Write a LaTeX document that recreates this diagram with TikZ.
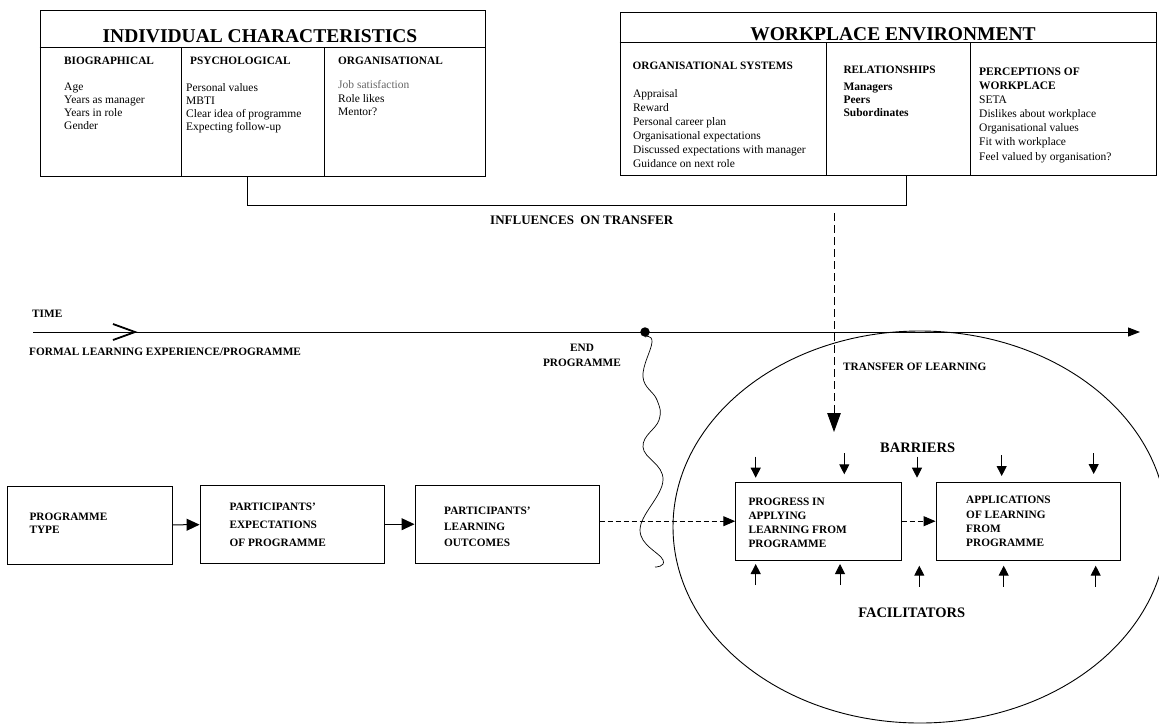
\documentclass[tikz,border=0pt]{standalone}
\usepackage{fontspec}
\setmainfont{Liberation Serif}
\usetikzlibrary{arrows.meta}

\begin{document}
\begin{tikzpicture}[x=1pt,y=-1pt,
    box/.style={draw=black,line width=1pt,inner sep=0pt},
    stagebox/.style={box,minimum height=78pt},
    txt/.style={inner sep=0pt,anchor=north west,align=left,font=\fontsize{11.5}{13}\selectfont},
    head/.style={inner sep=0pt,anchor=north west,align=left,font=\fontsize{11.3}{14}\selectfont\bfseries},
    stagetext/.style={head,font=\fontsize{11.3}{#1}\selectfont\bfseries},
    title/.style={inner sep=0pt,font=\fontsize{19.5}{22}\selectfont\bfseries},
    bigtext/.style={inner sep=0pt,font=\fontsize{14.5}{16}\selectfont\bfseries},
    solidarr/.style={line width=1pt,-{Triangle[length=13pt,width=12pt]}},
    dasharr/.style={line width=1pt,dash pattern=on 5pt off 3pt,-{Triangle[length=12pt,width=10pt]}},
    smallarr/.style={line width=1pt,-{Triangle[length=10pt,width=10pt]}}]
    \useasboundingbox (0,0) rectangle (1159,724);
    \clip (0,0) rectangle (1159,724);

    \node[box,minimum width=445pt,minimum height=166pt] (indiv) at (262.5,93) {};
    \draw[line width=1pt] (indiv.north west) ++(0,38) -- ++(445,0);
    \draw[line width=1pt] (indiv.north west) ++(142,38) -- ++(0,128);
    \draw[line width=1pt] (indiv.north west) ++(285,38) -- ++(0,128);
    \node[title] (indivtitle) at (260,35.7) {INDIVIDUAL CHARACTERISTICS};
    \node[head] (biohead) at (64,57.2) {BIOGRAPHICAL};
    \node[txt] (bioitems) at (64,83) {Age\\Years as manager\\Years in role\\Gender};
    \node[head] (psyhead) at (190,57.2) {PSYCHOLOGICAL};
    \node[txt] (psyitems) at (186,83) {Personal values\\MBTI\\Clear idea of programme\\Expecting follow-up};
    \node[head] (orghead) at (338,57.2) {ORGANISATIONAL};
    \node[txt,font=\fontsize{11.5}{13.2}\selectfont] (orgitems) at (338,80.5) {\textcolor{black!60}{Job satisfaction}\\Role likes\\Mentor?};

    \node[box,minimum width=536pt,minimum height=163pt] (work) at (888,94.2) {};
    \draw[line width=1pt] (work.north west) ++(0,30.6) -- ++(536,0);
    \draw[line width=1pt] (work.north west) ++(206.6,30.6) -- ++(0,132.4);
    \draw[line width=1pt] (work.north west) ++(351,30.6) -- ++(0,132.4);
    \node[title] (worktitle) at (893,34.5) {WORKPLACE ENVIRONMENT};
    \node[head] (syshead) at (632.5,62.2) {ORGANISATIONAL SYSTEMS};
    \node[txt,font=\fontsize{11.5}{14}\selectfont] (sysitems) at (632.8,89.8) {Appraisal\\Reward\\Personal career plan\\Organisational expectations\\Discussed expectations with manager\\Guidance on next role};
    \node[head] (relhead) at (843.3,66.2) {RELATIONSHIPS};
    \node[txt,font=\fontsize{11.5}{13.3}\selectfont\bfseries] (relitems) at (843.3,82.5) {Managers\\Peers\\Subordinates};
    \node[txt,font=\fontsize{11.5}{14.05}\selectfont] (percitems) at (979,67.9) {\textbf{PERCEPTIONS OF}\\\textbf{WORKPLACE}\\SETA\\Dislikes about workplace\\Organisational values\\Fit with workplace\\Feel valued by organisation?};

    \coordinate (infl) at (247,205);
    \coordinate (infr) at (906,205);
    \draw[line width=1pt] (indiv.south -| infl) -- (infl) -- (infr) -- (work.south -| infr);
    \node[inner sep=0pt,anchor=west,font=\fontsize{13}{15}\selectfont\bfseries] (influences) at (490,220) {INFLUENCES\ \ ON TRANSFER};

    \coordinate (tstart) at (33,332);
    \coordinate (tend) at (1140,332);
    \draw[line width=1pt,-{Triangle[length=12pt,width=9pt]}] (tstart) -- (tend);
    \draw[line width=1.8pt] (113,324) -- (135,332) -- (113,340);
    \node[head,anchor=west] (timetext) at (32,314) {TIME};
    \node[head,anchor=west] (formaltext) at (29,352) {FORMAL LEARNING EXPERIENCE/PROGRAMME};
    \node[circle,fill=black,inner sep=0pt,minimum size=9.5pt] (endprog) at (645,332) {};
    \node[inner sep=0pt,anchor=north,align=center,font=\fontsize{11.3}{15}\selectfont\bfseries] (endtext) at (582,344.3) {END\\PROGRAMME};
    \draw[line width=0.7pt] plot[smooth,tension=0.7] coordinates {(endprog.south) (652,342) (643,377) (657,400) (659,420) (643,447) (663,480) (640,530) (663,560) (655,567)};

    \draw[line width=0.9pt] (920,527) ellipse [x radius=247pt, y radius=196pt];
    \node[head,anchor=west] (transfertext) at (843,366.7) {TRANSFER OF LEARNING};
    \coordinate (wedown) at (834,213);
    \coordinate (wetip) at (834,432);
    \draw[line width=1pt,dash pattern=on 8pt off 4pt,-{Triangle[length=19pt,width=13.5pt]}] (wedown) -- (wetip);

    \node[stagebox,minimum width=165pt] (ptype) at (90.2,525.2) {};
    \node[stagebox,minimum width=184.3pt] (pexpect) at (292.2,524.2) {};
    \node[stagebox,minimum width=184pt] (poutcome) at (507,524.2) {};
    \node[stagebox,minimum width=165.3pt] (progress) at (818.4,521.2) {};
    \node[stagebox,minimum width=184.3pt] (applic) at (1028.2,521.2) {};
    \node[stagetext=13.3] (ptypetext) at (29.3,513) {PROGRAMME\\TYPE};
    \node[stagetext=17.8] (pexpecttext) at (229.3,503) {PARTICIPANTS’\\EXPECTATIONS\\OF PROGRAMME};
    \node[stagetext=15.7] (poutcometext) at (444,507) {PARTICIPANTS’\\LEARNING\\OUTCOMES};
    \node[stagetext=14.1] (progresstext) at (748.3,498) {PROGRESS IN\\APPLYING\\LEARNING FROM\\PROGRAMME};
    \node[stagetext=14.2] (applictext) at (966,496.3) {APPLICATIONS\\OF LEARNING\\FROM\\PROGRAMME};
    \draw[solidarr] (ptype) -- (pexpect);
    \draw[solidarr] (pexpect) -- (poutcome);
    \draw[dasharr] (poutcome.east |- progress) -- (progress.west);
    \draw[dasharr] (progress) -- (applic);

    \node[bigtext] (barriers) at (917.7,447.7) {BARRIERS};
    \node[bigtext] (facilitators) at (911.7,612.3) {FACILITATORS};
    \foreach \bx/\by in {755.7/456.7, 844.3/453.3, 917/456.7, 1001.7/455, 1093.7/453}
        \draw[smallarr] (\bx,\by) -- ++(0,21);
    \foreach \fx/\fy in {755.7/585, 840/585, 919.3/586.7, 1003.7/586.7, 1095.7/586.7}
        \draw[smallarr] (\fx,\fy) -- ++(0,-21);
\end{tikzpicture}
\end{document}
